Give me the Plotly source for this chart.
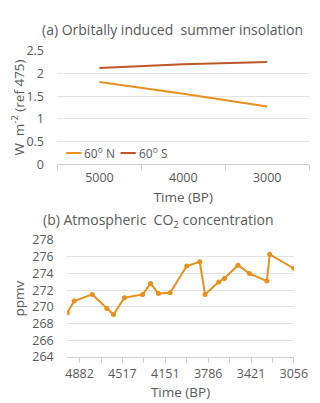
import plotly.graph_objects as go

# (a) orbital insolation anomaly, W m-2 relative to 475
ins_years = [5000, 4000, 3000]
ins_60n = [1.81, 1.55, 1.27]
ins_60s = [2.12, 2.20, 2.25]
ins_names = ["60<sup>o</sup> N", "60<sup>o</sup> S"]

# (b) atmospheric CO2
co2_years = [4987, 4928, 4774, 4650, 4593, 4499, 4345, 4277, 4210, 4110,
             3969, 3858, 3813, 3696, 3648, 3532, 3434, 3286, 3262, 3056]
co2_ppmv = [269.3, 270.7, 271.5, 269.8, 269.1, 271.1, 271.5, 272.8, 271.6, 271.7,
            274.9, 275.4, 271.5, 273.0, 273.4, 275.0, 274.0, 273.1, 276.3, 274.6]
co2_ticks = [4882, 4517, 4151, 3786, 3421, 3056]

FONT = "Open Sans"
GRID = "#e3e3e3"
TICK = "#595959"
ORANGE = "#e8901e"
RUST = "#c0562a"
W, H = 320, 403

fig = go.Figure()
fig.add_trace(go.Scatter(x=ins_years, y=ins_60n, mode="lines", name=ins_names[0],
                         line=dict(color=ORANGE, width=2), xaxis="x", yaxis="y"))
fig.add_trace(go.Scatter(x=ins_years, y=ins_60s, mode="lines", name=ins_names[1],
                         line=dict(color=RUST, width=2), xaxis="x", yaxis="y"))
fig.add_trace(go.Scatter(x=co2_years, y=co2_ppmv, mode="lines+markers",
                         line=dict(color=ORANGE, width=2), marker=dict(size=5, color=ORANGE),
                         xaxis="x2", yaxis="y2"))

axfont = dict(family=FONT, size=12.5, color=TICK)
ttlfont = dict(family=FONT, size=13.5, color=TICK)

# hand-made legend (short line samples like the Excel original)
shapes, annots = [], []
leg_y = 1 - 142 / H
for x0, col, name in [(60, ORANGE, ins_names[0]), (117, RUST, ins_names[1])]:
    shapes.append(dict(type="line", xref="paper", yref="paper", x0=x0 / W, x1=(x0 + 16) / W,
                       y0=leg_y, y1=leg_y, line=dict(color=col, width=2)))
    annots.append(dict(text=name, x=(x0 + 17) / W, y=leg_y, xref="paper", yref="paper",
                       xanchor="left", yanchor="middle", showarrow=False,
                       font=dict(family=FONT, size=12, color=TICK)))

annots += [
    dict(text="(a) Orbitally induced  summer insolation", x=33 / W, y=1 - 13 / H,
         xref="paper", yref="paper", xanchor="left", yanchor="middle", showarrow=False,
         font=dict(family=FONT, size=14, color=TICK)),
    dict(text="(b) Atmospheric  CO<sub>2</sub> concentration", x=34 / W, y=1 - 212 / H,
         xref="paper", yref="paper", xanchor="left", yanchor="middle", showarrow=False,
         font=dict(family=FONT, size=14, color=TICK)),
]

fig.update_layout(
    width=W, height=H,
    margin=dict(l=0, r=0, t=0, b=0),
    paper_bgcolor="white", plot_bgcolor="white",
    font=dict(family=FONT, color=TICK),
    showlegend=False,
    xaxis=dict(domain=[0.159, 0.984], anchor="y", range=[5500, 2500],
               tickvals=ins_years, ticks="outside", ticklen=2, tickcolor="rgba(0,0,0,0)",
               tickfont=axfont, showgrid=False,
               showline=True, linecolor="#d0d0d0", zeroline=False,
               minor=dict(tickvals=[5500, 4500, 3500, 2500], ticks="outside",
                          ticklen=5, tickcolor="#d0d0d0"),
               title=dict(text="Time (BP)", font=ttlfont, standoff=7)),
    yaxis=dict(domain=[0.618, 0.913], anchor="x", range=[0, 2.5], dtick=0.5,
               ticks="outside", ticklen=10, tickcolor="rgba(0,0,0,0)",
               tickfont=axfont, gridcolor=GRID, zeroline=False, showline=False,
               title=dict(text="W  m<sup>-2</sup> (ref 475)", font=ttlfont, standoff=4)),
    xaxis2=dict(domain=[0.191, 0.934], anchor="y2", range=[4987, 3056],
                tickvals=co2_ticks, ticks="outside", ticklen=5, tickcolor="rgba(0,0,0,0)",
                tickfont=axfont, showgrid=False,
                showline=True, linecolor="#d0d0d0", zeroline=False,
                minor=dict(tick0=3056, dtick=182.5, ticks="outside",
                           ticklen=5, tickcolor="#d0d0d0"),
                title=dict(text="Time (BP)", font=ttlfont, standoff=6)),
    yaxis2=dict(domain=[0.119, 0.422], anchor="x2", range=[264, 278], dtick=2,
                ticks="outside", ticklen=10, tickcolor="rgba(0,0,0,0)",
                tickfont=axfont, gridcolor=GRID, zeroline=False, showline=False,
                title=dict(text="ppmv", font=ttlfont, standoff=4)),
    shapes=shapes,
    annotations=annots,
)

fig.write_html("out.html")
